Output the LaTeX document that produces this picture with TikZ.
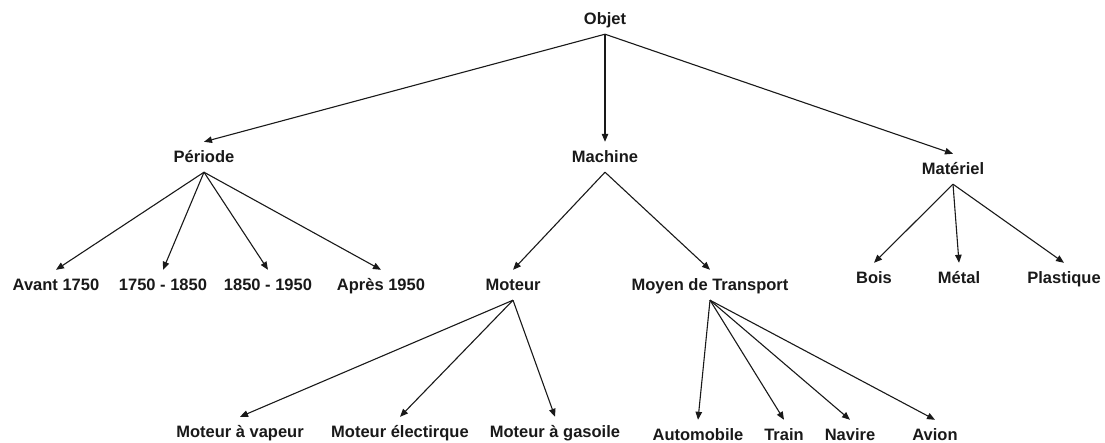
\documentclass[tikz,border=0pt]{standalone}
\usepackage{fontspec}
\setmainfont{Liberation Sans}
\usetikzlibrary{arrows.meta}
\begin{document}
\begin{tikzpicture}[x=1pt,y=-1pt,
  lbl/.style={font=\fontsize{16.5}{19}\selectfont\bfseries, text=black!90, inner sep=0pt,
    text height=11.8pt, text depth=0pt, minimum height=30pt, anchor=center},
  conn/.style={draw=black!90, line width=1.1pt, -{Triangle[length=8pt,width=6.5pt]}}]
\useasboundingbox (0,0) rectangle (1105,443);
% level 0
\node[lbl] (objet) at (605,19) {Objet};
% level 1
\node[lbl] (periode) at (204,157) {Période};
\node[lbl] (machine) at (605,157) {Machine};
\node[lbl] (materiel) at (953,169) {Matériel};
% level 2
\node[lbl] (avant) at (56,285) {Avant 1750};
\node[lbl] (p1) at (163,285) {1750 - 1850};
\node[lbl] (p2) at (268,285) {1850 - 1950};
\node[lbl] (apres) at (381,285) {Après 1950};
\node[lbl] (moteur) at (513,285) {Moteur};
\node[lbl] (moyen) at (710,285) {Moyen de Transport};
\node[lbl] (bois) at (874,278) {Bois};
\node[lbl] (metal) at (959,278) {Métal};
\node[lbl] (plast) at (1064,278) {Plastique};
% level 3
\node[lbl] (vapeur) at (240,432) {Moteur à vapeur};
\node[lbl] (elec) at (400,432) {Moteur électirque};
\node[lbl] (gaso) at (555,432) {Moteur à gasoile};
\node[lbl] (auto) at (698,435) {Automobile};
\node[lbl] (train) at (784,435) {Train};
\node[lbl] (navire) at (850,435) {Navire};
\node[lbl] (avion) at (935,435) {Avion};
% connectors
\foreach \c in {periode,machine,materiel} \draw[conn] (objet.south) -- (\c.north);
\foreach \c in {avant,p1,p2,apres} \draw[conn] (periode.south) -- (\c.north);
\foreach \c in {moteur,moyen} \draw[conn] (machine.south) -- (\c.north);
\foreach \c in {bois,metal,plast} \draw[conn] (materiel.south) -- (\c.north);
\foreach \c in {vapeur,elec,gaso} \draw[conn] (moteur.south) -- (\c.north);
\foreach \c in {auto,train,navire,avion} \draw[conn] (moyen.south) -- (\c.north);
\end{tikzpicture}
\end{document}
